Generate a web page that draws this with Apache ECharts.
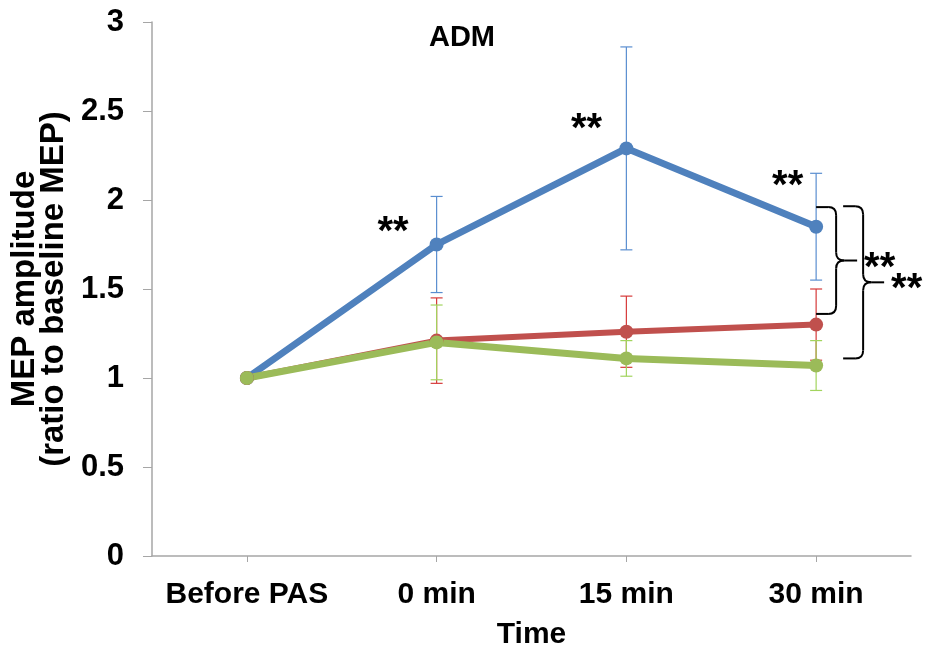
<!DOCTYPE html>
<html>
<head>
<meta charset="utf-8">
<script src="https://cdn.jsdelivr.net/npm/echarts@6/dist/echarts.min.js"></script>
<style>
  html, body { margin: 0; padding: 0; background: #fff; }
  #chart { width: 928px; height: 655px; }
</style>
</head>
<body>
<div id="chart"></div>
<script>
// Time points and group means / error bars (MEP ratio to baseline)
const categories = ['Before PAS', '0 min', '15 min', '30 min'];
const blueMean  = [1.00, 1.75, 2.29, 1.85];
const blueErr   = [0.00, 0.27, 0.57, 0.30];
const redMean   = [1.00, 1.21, 1.26, 1.30];
const redErr    = [0.00, 0.24, 0.20, 0.20];
const greenMean = [1.00, 1.20, 1.11, 1.07];
const greenErr  = [0.00, 0.21, 0.10, 0.14];

// Significance marks: [category position, value]
const starMarks = [[0.77, 1.86], [1.79, 2.44], [2.85, 2.12]];
// Comparison braces at the last time point: [category, top value, bottom value]
const braces = [[3, 1.96, 1.36], [3, 1.965, 1.11]];

const FONT = "'Liberation Sans', Arial, sans-serif";
const colors = { blue: '#4F81BD', red: '#C0504D', green: '#9BBB59' };
const errColors = { blue: '#5A8ED0', red: '#D63A3A', green: '#A2D45E' };

const chart = echarts.init(document.getElementById('chart'), null, { renderer: 'canvas' });

function errData(mean, err) {
  return mean.map((m, i) => [i, m, err[i]]);
}

function errorBarSeries(name, mean, err, color) {
  return {
    name: name,
    type: 'custom',
    z: 1,
    silent: true,
    data: errData(mean, err),
    renderItem: function (params, api) {
      const e = api.value(2);
      if (!e) return null;
      const i = api.value(0), m = api.value(1);
      const top = api.coord([i, m + e]);
      const bot = api.coord([i, m - e]);
      const hw = 6;
      const st = { stroke: color, lineWidth: 1.2 };
      return {
        type: 'group',
        children: [
          { type: 'line', shape: { x1: top[0], y1: top[1], x2: bot[0], y2: bot[1] }, style: st },
          { type: 'line', shape: { x1: top[0] - hw, y1: top[1], x2: top[0] + hw, y2: top[1] }, style: st },
          { type: 'line', shape: { x1: bot[0] - hw, y1: bot[1], x2: bot[0] + hw, y2: bot[1] }, style: st }
        ]
      };
    }
  };
}

function lineSeries(name, data, color, width) {
  return {
    name: name,
    type: 'line',
    z: 3,
    data: data,
    symbol: 'circle',
    symbolSize: 14,
    lineStyle: { color: color, width: width },
    itemStyle: { color: color },
    animation: false
  };
}

const option = {
  animation: false,
  backgroundColor: '#ffffff',
  title: {
    text: 'ADM',
    left: 457,
    top: 18,
    textAlign: 'center',
    textStyle: { fontFamily: FONT, fontSize: 29, fontWeight: 'bold', color: '#000', lineHeight: 30 }
  },
  grid: { left: 148, right: 17, top: 22, bottom: 97, containLabel: false },
  xAxis: {
    type: 'category',
    data: categories,
    boundaryGap: true,
    name: 'Time',
    nameLocation: 'middle',
    nameGap: 64,
    nameTextStyle: { fontFamily: FONT, fontSize: 30, fontWeight: 'bold', color: '#000', lineHeight: 30 },
    axisLine: { lineStyle: { color: '#a6a6a6', width: 1.5 } },
    axisTick: { show: true, alignWithLabel: true, length: 6, lineStyle: { color: '#a6a6a6' } },
    axisLabel: { interval: 0, hideOverlap: false, fontFamily: FONT, fontSize: 30, fontWeight: 'bold', color: '#000', margin: 24, lineHeight: 30 },
    splitLine: { show: false }
  },
  yAxis: {
    type: 'value',
    min: 0,
    max: 3,
    interval: 0.5,
    name: 'MEP amplitude\n(ratio to baseline MEP)',
    nameLocation: 'middle',
    nameGap: 77,
    nameTextStyle: { fontFamily: FONT, fontSize: 33, fontWeight: 'bold', color: '#000', lineHeight: 29 },
    axisLine: { show: true, lineStyle: { color: '#a6a6a6', width: 1.5 } },
    axisTick: { show: true, length: 9, lineStyle: { color: '#a6a6a6' } },
    axisLabel: { fontFamily: FONT, fontSize: 31, fontWeight: 'bold', color: '#000', margin: 28 },
    splitLine: { show: false }
  },
  series: [
    errorBarSeries('Series 1 error', blueMean, blueErr, errColors.blue),
    errorBarSeries('Series 2 error', redMean, redErr, errColors.red),
    errorBarSeries('Series 3 error', greenMean, greenErr, errColors.green),
    lineSeries('Series 1', blueMean, colors.blue, 7),
    lineSeries('Series 2', redMean, colors.red, 6),
    lineSeries('Series 3', greenMean, colors.green, 7),
    {
      name: 'Significance',
      type: 'custom',
      z: 5,
      silent: true,
      data: starMarks,
      renderItem: function (params, api) {
        const pos = api.value(0), v = api.value(1);
        const i0 = Math.floor(pos), i1 = Math.min(i0 + 1, categories.length - 1);
        const a = api.coord([i0, v]), b = api.coord([i1, v]);
        const x = a[0] + (pos - i0) * (b[0] - a[0]);
        return {
          type: 'text',
          style: {
            x: x, y: a[1] + 8, text: '**', fill: '#000',
            font: 'bold 40px ' + FONT, textAlign: 'center', textVerticalAlign: 'middle'
          }
        };
      }
    },
    {
      name: 'Comparisons',
      type: 'custom',
      z: 5,
      silent: true,
      data: braces,
      renderItem: function (params, api) {
        const k = params.dataIndex;
        const i = api.value(0);
        const top = api.coord([i, api.value(1)]);
        const bot = api.coord([i, api.value(2)]);
        const x0 = top[0] + k * 27;
        const w = 20, r = 8, tip = 21;
        const yT = top[1], yB = bot[1], yM = (yT + yB) / 2;
        const x1 = x0 + w;
        const st = { stroke: '#000', lineWidth: 2, fill: null };
        return {
          type: 'group',
          children: [
            { type: 'line', shape: { x1: x0, y1: yT, x2: x1 - r, y2: yT }, style: st },
            { type: 'bezierCurve', shape: { x1: x1 - r, y1: yT, cpx1: x1, cpy1: yT, x2: x1, y2: yT + r }, style: st },
            { type: 'line', shape: { x1: x1, y1: yT + r, x2: x1, y2: yM - r }, style: st },
            { type: 'bezierCurve', shape: { x1: x1, y1: yM - r, cpx1: x1, cpy1: yM, x2: x1 + r, y2: yM }, style: st },
            { type: 'line', shape: { x1: x1 + r, y1: yM, x2: x1 + tip, y2: yM }, style: st },
            { type: 'bezierCurve', shape: { x1: x1, y1: yM + r, cpx1: x1, cpy1: yM, x2: x1 + r, y2: yM }, style: st },
            { type: 'line', shape: { x1: x1, y1: yM + r, x2: x1, y2: yB - r }, style: st },
            { type: 'bezierCurve', shape: { x1: x1, y1: yB - r, cpx1: x1, cpy1: yB, x2: x1 - r, y2: yB }, style: st },
            { type: 'line', shape: { x1: x1 - r, y1: yB, x2: x0, y2: yB }, style: st },
            {
              type: 'text',
              style: {
                x: x1 + tip + 7, y: yM + 8, text: '**', fill: '#000',
                font: 'bold 40px ' + FONT, textAlign: 'left', textVerticalAlign: 'middle'
              }
            }
          ]
        };
      }
    }
  ]
};

chart.setOption(option);
</script>
</body>
</html>
